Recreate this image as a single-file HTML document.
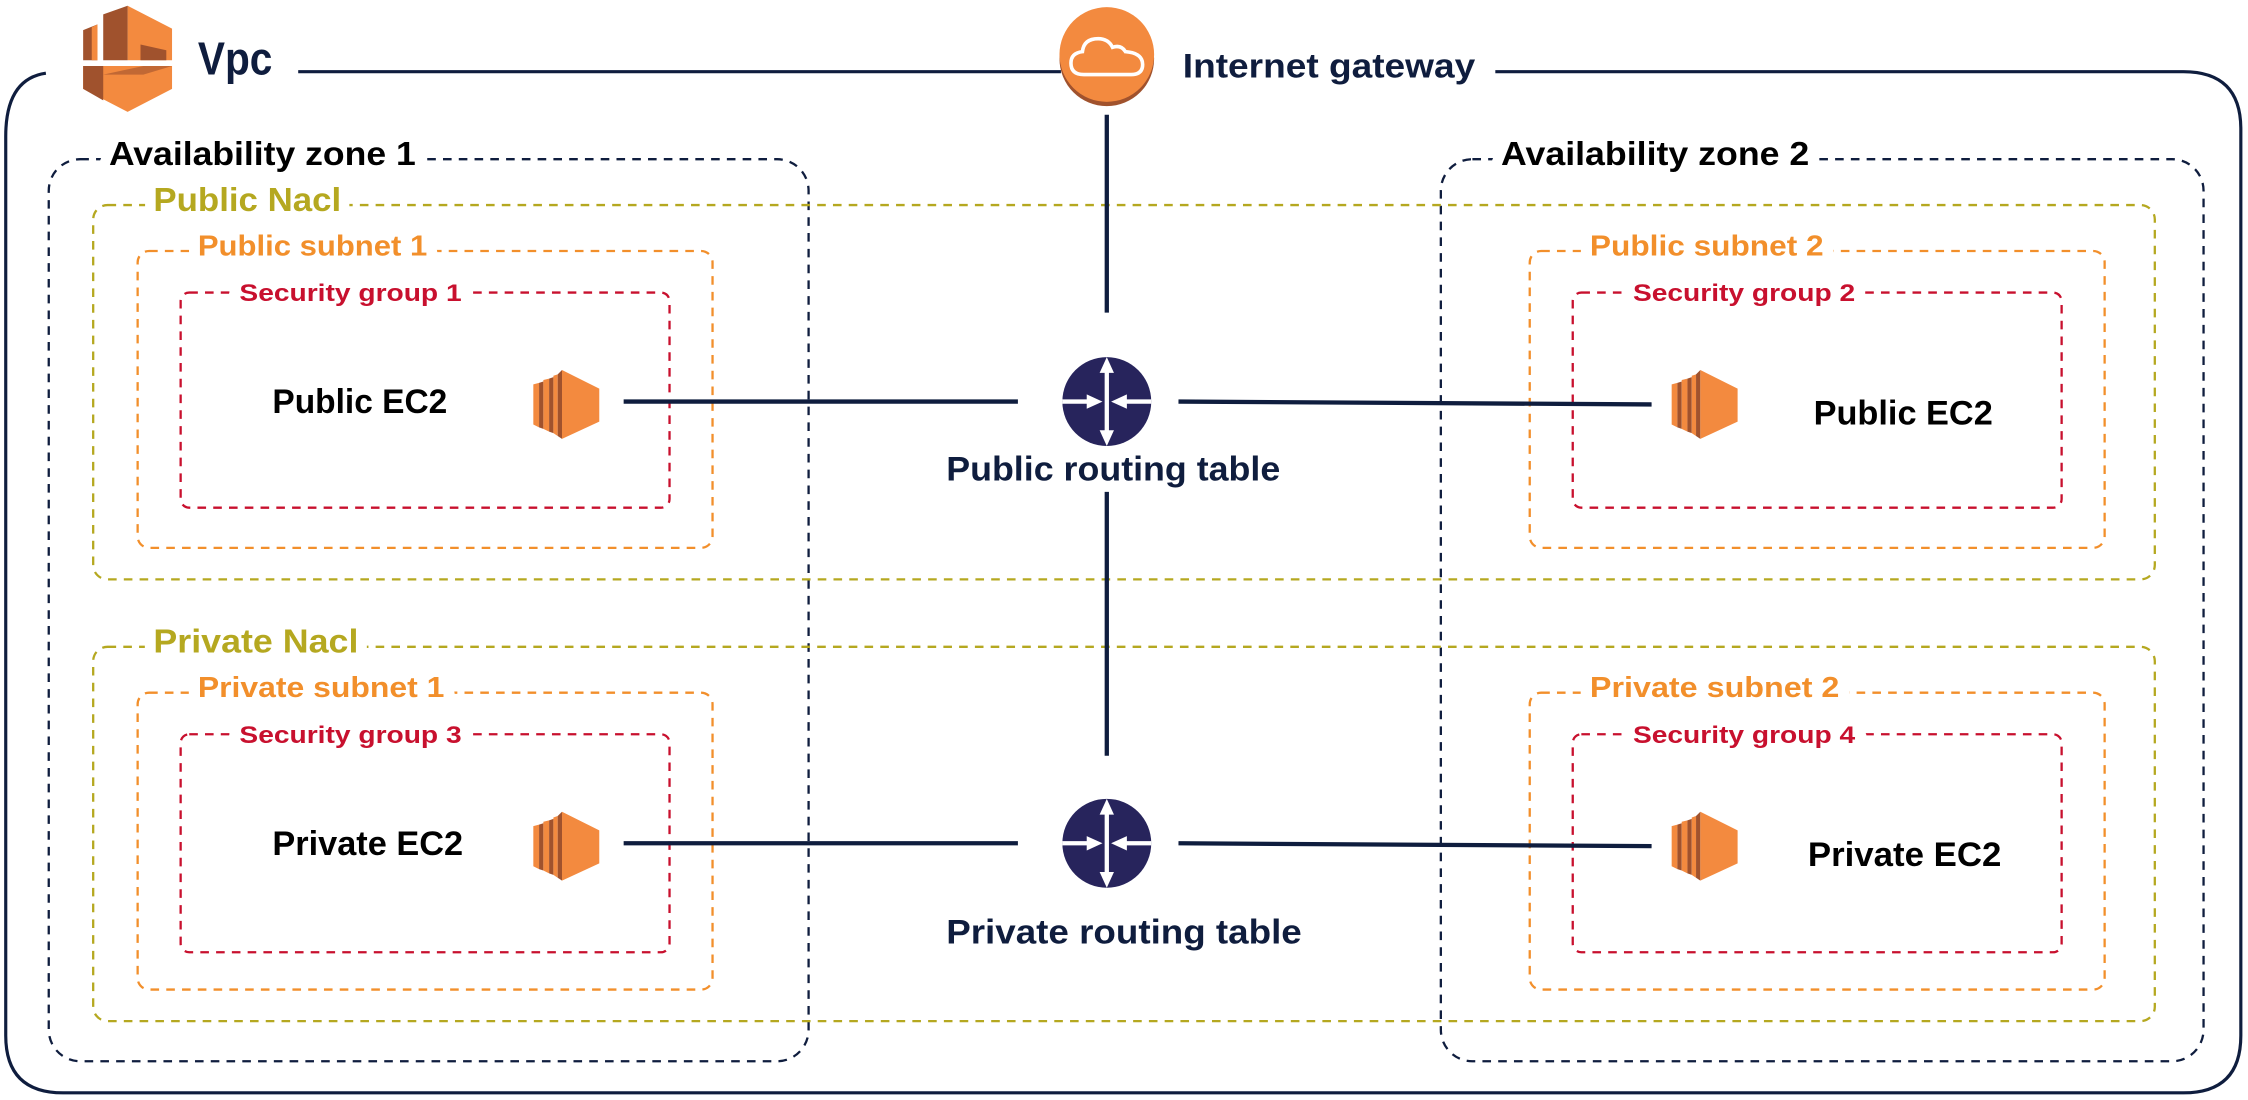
<!DOCTYPE html>
<html><head><meta charset="utf-8"><style>
html,body{margin:0;padding:0;background:#fff;}
svg{display:block;}
text{font-family:"Liberation Sans",sans-serif;}
</style></head><body>
<svg width="2248" height="1100" viewBox="0 0 1568 767" preserveAspectRatio="none" xmlns="http://www.w3.org/2000/svg">
<defs>
<g id="ec2">
<polygon points="0,10 4,9 4,40 0,38" fill="#f38a3f"/>
<polygon points="4,9 7,8 7,41 4,40" fill="#a0522d"/>
<polygon points="7,7 11,6 11,43 7,41" fill="#f38a3f"/>
<polygon points="11,6 14,5 14,44 11,43" fill="#a0522d"/>
<polygon points="14,4 17,3 17,46 14,44" fill="#f38a3f"/>
<polygon points="17,3 20,0 20,48 17,46" fill="#a0522d"/>
<polygon points="20,0 46,13 46,36 20,48" fill="#f38a3f"/>
</g>
<g id="router">
<circle r="31" fill="#27245c"/>
<line x1="0" y1="-25" x2="0" y2="25" stroke="#fff" stroke-width="3"/>
<polygon points="-5,-20 0,-31 5,-20" fill="#fff"/>
<polygon points="-5,20 0,31 5,20" fill="#fff"/>
<line x1="-31" y1="0" x2="-12" y2="0" stroke="#fff" stroke-width="3"/>
<polygon points="-14,-5 -3,0 -14,5" fill="#fff"/>
<line x1="31" y1="0" x2="12" y2="0" stroke="#fff" stroke-width="3"/>
<polygon points="14,-5 3,0 14,5" fill="#fff"/>
</g>
</defs>

<path d="M32,51 Q4,55 4,95 L4,722 Q4,762 44,762 L1523,762 Q1563,762 1563,722 L1563,90 Q1563,50 1523,50 L1043,50 M740,50 L208,50" fill="none" stroke="#0f1d3e" stroke-width="2.2"/>

<rect x="34" y="111" width="530" height="629" rx="22" fill="none" stroke="#0f1d3e" stroke-width="1.6" stroke-dasharray="6,5"/>
<rect x="1005" y="111" width="532" height="629" rx="22" fill="none" stroke="#0f1d3e" stroke-width="1.6" stroke-dasharray="6,5"/>
<rect x="65" y="143" width="1438" height="261" rx="10" fill="none" stroke="#b5a820" stroke-width="1.6" stroke-dasharray="6,5"/>
<rect x="65" y="451" width="1438" height="261" rx="10" fill="none" stroke="#b5a820" stroke-width="1.6" stroke-dasharray="6,5"/>
<g fill="none" stroke="#f28f2b" stroke-width="1.6" stroke-dasharray="6,5">
<rect x="96" y="175" width="401" height="207" rx="8"/>
<rect x="1067" y="175" width="401" height="207" rx="8"/>
<rect x="96" y="483" width="401" height="207" rx="8"/>
<rect x="1067" y="483" width="401" height="207" rx="8"/>
</g>
<g fill="none" stroke="#c8102e" stroke-width="1.6" stroke-dasharray="6,5">
<rect x="126" y="204" width="341" height="150" rx="6"/>
<rect x="1097" y="204" width="341" height="150" rx="6"/>
<rect x="126" y="512" width="341" height="152" rx="6"/>
<rect x="1097" y="512" width="341" height="152" rx="6"/>
</g>

<g stroke="#0f1d3e" stroke-width="3" fill="none">
<line x1="772" y1="80" x2="772" y2="218"/>
<line x1="772" y1="343" x2="772" y2="527"/>
<line x1="435" y1="280" x2="710" y2="280"/>
<line x1="822" y1="280" x2="1152" y2="282"/>
<line x1="435" y1="588" x2="710" y2="588"/>
<line x1="822" y1="588" x2="1152" y2="590"/>
</g>

<g stroke="#fff" stroke-width="14" paint-order="stroke" stroke-linejoin="round" font-weight="bold" lengthAdjust="spacingAndGlyphs">
<text x="76" y="115" font-size="23" fill="#000" textLength="214" lengthAdjust="spacingAndGlyphs">Availability zone 1</text>
<text x="1047" y="115" font-size="23" fill="#000" textLength="215" lengthAdjust="spacingAndGlyphs">Availability zone 2</text>
<text x="107" y="147" font-size="23" fill="#b5a820" textLength="131" lengthAdjust="spacingAndGlyphs">Public Nacl</text>
<text x="107" y="455" font-size="23" fill="#b5a820" textLength="143" lengthAdjust="spacingAndGlyphs">Private Nacl</text>
<text x="138" y="178" font-size="20" fill="#f28f2b" textLength="160" lengthAdjust="spacingAndGlyphs">Public subnet 1</text>
<text x="1109" y="178" font-size="20" fill="#f28f2b" textLength="163" lengthAdjust="spacingAndGlyphs">Public subnet 2</text>
<text x="138" y="486" font-size="20" fill="#f28f2b" textLength="172" lengthAdjust="spacingAndGlyphs">Private subnet 1</text>
<text x="1109" y="486" font-size="20" fill="#f28f2b" textLength="174" lengthAdjust="spacingAndGlyphs">Private subnet 2</text>
<text x="167" y="210" font-size="17" fill="#c8102e" textLength="155" lengthAdjust="spacingAndGlyphs">Security group 1</text>
<text x="1139" y="210" font-size="17" fill="#c8102e" textLength="155" lengthAdjust="spacingAndGlyphs">Security group 2</text>
<text x="167" y="518" font-size="17" fill="#c8102e" textLength="155" lengthAdjust="spacingAndGlyphs">Security group 3</text>
<text x="1139" y="518" font-size="17" fill="#c8102e" textLength="155" lengthAdjust="spacingAndGlyphs">Security group 4</text>
<text x="825" y="54" font-size="24" fill="#0f1d3e" textLength="204" lengthAdjust="spacingAndGlyphs">Internet gateway</text>
</g>

<g font-weight="bold">
<text x="190" y="288" font-size="24" fill="#000" textLength="122" lengthAdjust="spacingAndGlyphs">Public EC2</text>
<text x="1265" y="296" font-size="24" fill="#000" textLength="125" lengthAdjust="spacingAndGlyphs">Public EC2</text>
<text x="190" y="596" font-size="24" fill="#000" textLength="133" lengthAdjust="spacingAndGlyphs">Private EC2</text>
<text x="1261" y="604" font-size="24" fill="#000" textLength="135" lengthAdjust="spacingAndGlyphs">Private EC2</text>
<text x="660" y="335" font-size="24" fill="#0f1d3e" textLength="233" lengthAdjust="spacingAndGlyphs">Public routing table</text>
<text x="660" y="658" font-size="24" fill="#0f1d3e" textLength="248" lengthAdjust="spacingAndGlyphs">Private routing table</text>
<text x="138" y="52" font-size="32" fill="#0f1d3e" textLength="52" lengthAdjust="spacingAndGlyphs">Vpc</text>
</g>

<use href="#ec2" x="372" y="258"/>
<use href="#ec2" x="372" y="566"/>
<use href="#ec2" x="1166" y="258"/>
<use href="#ec2" x="1166" y="566"/>
<use href="#router" x="772" y="280"/>
<use href="#router" x="772" y="588"/>

<circle cx="772" cy="41" r="33" fill="#a0522d"/>
<circle cx="772" cy="38" r="33" fill="#f38a3f"/>
<path d="M756,52 Q747,52 747,44 Q747,37 755,36 Q756,27 766,27 Q773,27 776,33 Q782,31 785,36 Q797,37 797,45 Q797,52 789,52 Z" fill="none" stroke="#fff" stroke-width="2.5"/>

<polygon points="89,4 120,20 120,42 89,42" fill="#f38a3f"/>
<polygon points="72,10 89,4 89,42 72,42" fill="#a0522d"/>
<polygon points="58,21 68,17 68,42 58,42" fill="#a0522d"/>
<polygon points="64,19 68,17 68,42 64,42" fill="#f38a3f"/>
<polygon points="98,31 116,35 116,42 98,42" fill="#a0522d"/>
<polygon points="58,46 120,46 120,62 89,78 58,62" fill="#f38a3f"/>
<polygon points="58,46 72,46 72,70 58,62" fill="#a0522d"/>
<polygon points="72,52 100,46 120,46 100,52" fill="#a0522d" opacity="0.6"/>
</svg>
</body></html>
